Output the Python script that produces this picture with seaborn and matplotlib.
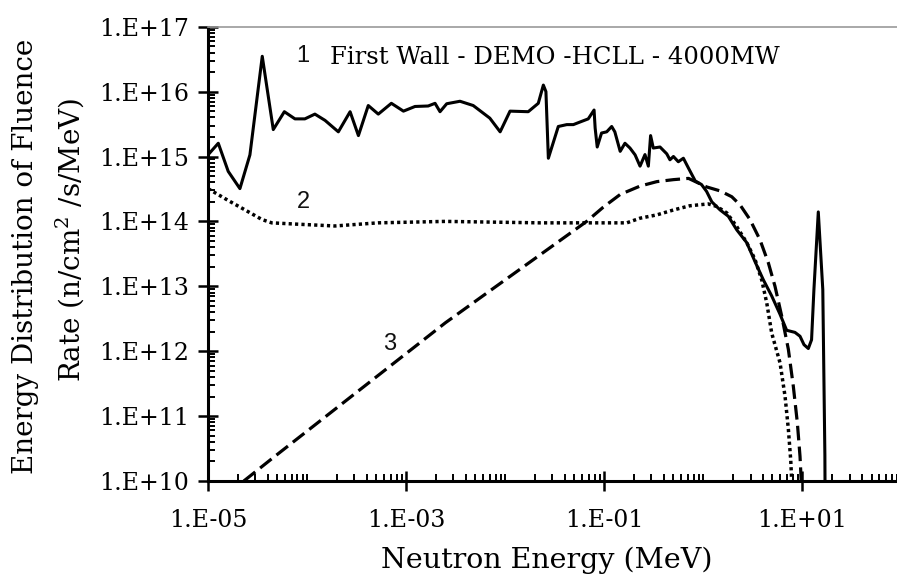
import numpy as np
import pandas as pd
import matplotlib
matplotlib.use("Agg")
import matplotlib.pyplot as plt
import seaborn as sns
from matplotlib.ticker import FixedLocator, FuncFormatter, NullFormatter

# ---------------- data ----------------
# Curve 1: First wall spectrum (solid)
energy_1 = [1.0e-5, 1.27e-5, 1.6e-5, 2.1e-5, 2.65e-5, 3.53e-5, 4.56e-5, 5.9e-5, 7.55e-5, 9.5e-5,
            1.2e-4, 1.52e-4, 2.07e-4, 2.72e-4, 3.3e-4, 4.15e-4, 5.24e-4, 7.1e-4, 9.4e-4, 1.23e-3,
            1.67e-3, 1.96e-3, 2.2e-3, 2.57e-3, 3.5e-3, 4.76e-3, 7.0e-3, 8.9e-3, 1.12e-2, 1.71e-2,
            2.16e-2, 2.43e-2, 2.58e-2, 2.73e-2, 3.44e-2, 4.19e-2, 4.88e-2, 5.7e-2, 6.9e-2, 7.9e-2,
            8.1e-2, 8.5e-2, 9.4e-2, 0.106, 0.119, 0.128, 0.145, 0.162, 0.182, 0.205,
            0.23, 0.258, 0.279, 0.294, 0.313, 0.366, 0.428, 0.461, 0.50, 0.56,
            0.63, 0.71, 0.83, 0.96, 1.08, 1.22, 1.48, 1.79, 2.18, 2.75,
            3.33, 4.04, 4.91, 5.96, 6.95, 8.43, 9.48, 10.4, 11.5, 12.4,
            13.1, 14.5, 16.1, 16.9, 17.2]
flux_1 = [1.06e15, 1.6e15, 5.9e14, 3.2e14, 1.06e15, 3.5e16, 2.6e15, 4.9e15, 3.8e15, 3.8e15,
          4.5e15, 3.6e15, 2.4e15, 4.9e15, 2.1e15, 6.1e15, 4.5e15, 6.6e15, 5.0e15, 5.9e15,
          6.0e15, 6.6e15, 4.9e15, 6.5e15, 7.1e15, 6.1e15, 3.9e15, 2.4e15, 5.0e15, 4.9e15,
          6.6e15, 1.26e16, 1.0e16, 9.4e14, 2.9e15, 3.1e15, 3.1e15, 3.4e15, 3.8e15, 5.2e15,
          2.75e15, 1.4e15, 2.3e15, 2.4e15, 2.9e15, 2.4e15, 1.2e15, 1.6e15, 1.35e15, 1.06e15,
          7.1e14, 1.07e15, 7.1e14, 2.1e15, 1.35e15, 1.4e15, 1.1e15, 8.9e14, 1.0e15, 8.3e14,
          9.4e14, 6.6e14, 4.2e14, 3.7e14, 2.9e14, 2.0e14, 1.5e14, 1.2e14, 7.4e13, 4.7e13,
          2.4e13, 1.26e13, 7.1e12, 3.7e12, 2.1e12, 1.95e12, 1.7e12, 1.26e12, 1.1e12, 1.5e12,
          8.9e12, 1.4e14, 8.9e12, 2.5e10, 1.0e8]

# Curve 2 (dotted)
energy_2 = [1.0e-5, 1.6e-5, 2.37e-5, 3.5e-5, 4.4e-5, 7.55e-5, 1.91e-4, 5.2e-4, 2.5e-3, 2.25e-2,
            0.169, 0.23, 0.34, 0.50, 0.73, 1.12, 1.37, 1.73, 2.18, 2.75,
            3.33, 3.89, 4.38, 4.91, 5.96, 6.7, 7.23, 7.64, 7.94]
flux_2 = [3.2e14, 2.1e14, 1.5e14, 1.07e14, 9.5e13, 9.1e13, 8.5e13, 9.5e13, 1.0e14, 9.5e13,
          9.5e13, 1.12e14, 1.26e14, 1.5e14, 1.74e14, 1.86e14, 1.7e14, 1.35e14, 8.3e13, 4.7e13,
          2.6e13, 1.26e13, 5.5e12, 1.9e12, 6.6e11, 2.0e11, 6.3e10, 2.1e10, 6.0e9]

# Curve 3 (dashed)
energy_3 = [2.3e-5, 4.4e-5, 2.5e-3, 6.65e-2, 9.8e-2, 0.145, 0.23, 0.34, 0.50, 0.71,
            1.08, 1.48, 1.94, 2.35, 2.96, 3.74, 4.54, 5.3, 6.19, 7.23,
            8.11, 8.91, 9.48, 9.9]
flux_3 = [1.0e10, 2.2e10, 2.75e12, 1.0e14, 1.66e14, 2.6e14, 3.5e14, 4.1e14, 4.4e14, 4.6e14,
          3.4e14, 2.95e14, 2.4e14, 1.8e14, 1.07e14, 5.2e13, 2.3e13, 1.0e13, 3.5e12, 1.07e12,
          2.9e11, 7.9e10, 2.4e10, 6.3e9]

x_major = [1e-5, 1e-3, 1e-1, 1e1]
y_major = [1e10, 1e11, 1e12, 1e13, 1e14, 1e15, 1e16, 1e17]
title_text = "First Wall - DEMO -HCLL - 4000MW"
x_label = "Neutron Energy (MeV)"
y_label_1 = "Energy Distribution of Fluence"
y_label_2 = "Rate (n/cm$^{2}$ /s/MeV)"

# ---------------- style ----------------
sns.set_theme(style="ticks")
plt.rcParams['font.family'] = ['DejaVu Serif']
plt.rcParams['mathtext.fontset'] = 'dejavuserif'
plt.rcParams['lines.scale_dashes'] = False

W, H = 897, 575
fig = plt.figure(figsize=(W / 100, H / 100), dpi=100)
fig.patch.set_facecolor('white')
ax_left, ax_top, ax_bottom = 208, 26.7, 481
ax = fig.add_axes([ax_left / W, 1 - ax_bottom / H, 1 - ax_left / W, (ax_bottom - ax_top) / H])
ax.set_facecolor('white')

df1 = pd.DataFrame({"E": energy_1, "F": flux_1})
df2 = pd.DataFrame({"E": energy_2, "F": flux_2})
df3 = pd.DataFrame({"E": energy_3, "F": flux_3})

sns.lineplot(data=df3, x="E", y="F", ax=ax, color="black", linewidth=2.3,
             estimator=None, sort=False)
ax.lines[-1].set_linestyle((0, (10.5, 4.5)))
sns.lineplot(data=df2, x="E", y="F", ax=ax, color="black", linewidth=2.5,
             estimator=None, sort=False)
ax.lines[-1].set_linestyle((0, (2.3, 2.3)))
ax.lines[-1].set_dash_capstyle('butt')
sns.lineplot(data=df1, x="E", y="F", ax=ax, color="black", linewidth=2.2,
             estimator=None, sort=False)

ax.set_xscale('log')
ax.set_yscale('log')
ax.set_xlim(1e-5, 10 ** 1.956)
ax.set_ylim(1e10, 1e17)
ax.set_xlabel("")
ax.set_ylabel("")


def fmt(v, _):
    e = int(round(np.log10(v)))
    return f"1.E{'+' if e >= 0 else '-'}{abs(e):02d}"


ax.xaxis.set_major_locator(FixedLocator(x_major))
ax.yaxis.set_major_locator(FixedLocator(y_major))
ax.xaxis.set_major_formatter(FuncFormatter(fmt))
ax.yaxis.set_major_formatter(FuncFormatter(fmt))

x_minor = [m * 10.0 ** d for d in range(-5, 3) for m in range(1, 10)
           if not (m == 1 and d % 2 != 0)]
y_minor = [m * 10.0 ** d for d in range(10, 17) for m in range(2, 10)]
ax.xaxis.set_minor_locator(FixedLocator(x_minor))
ax.yaxis.set_minor_locator(FixedLocator(y_minor))
ax.xaxis.set_minor_formatter(NullFormatter())
ax.yaxis.set_minor_formatter(NullFormatter())

ax.tick_params(which='major', direction='inout', length=15, width=1.8, color='black',
               labelsize=17, labelcolor='black')
ax.tick_params(axis='x', which='major', pad=13)
ax.tick_params(axis='y', which='major', pad=6)
ax.tick_params(which='minor', direction='in', length=5, width=1.4, color='black')

for s in ['left', 'bottom']:
    ax.spines[s].set_linewidth(2.2)
    ax.spines[s].set_color('black')
ax.spines['right'].set_visible(False)
ax.spines['top'].set_visible(True)
ax.spines['top'].set_color('#9a9a9a')
ax.spines['top'].set_linewidth(1.2)

# annotations
num_font = ['Liberation Sans', 'DejaVu Sans']
ax.text(9.1e-5, 3.5e16, "1", fontsize=17, family=num_font,
        ha='center', va='center', color='#111111')
ax.text(1.7e-4, 3.4e16, title_text, fontsize=17.5, ha='left', va='center', color='black')
ax.text(9.1e-5, 2.0e14, "2", fontsize=17, family=num_font,
        ha='center', va='center', color='#111111')
ax.text(6.9e-4, 1.27e12, "3", fontsize=17, family=num_font,
        ha='center', va='center', color='#111111')

fig.text(547 / W, 1 - 560 / H, x_label, fontsize=20.5, ha='center', va='center', color='black')
fig.text(26 / W, 1 - 256 / H, y_label_1, fontsize=20, rotation=90, ha='center', va='center',
         color='black')
fig.text(70 / W, 1 - 240 / H, y_label_2, fontsize=20, rotation=90, ha='center', va='center',
         color='black')

fig.savefig("out.png", dpi=100, facecolor='white')
